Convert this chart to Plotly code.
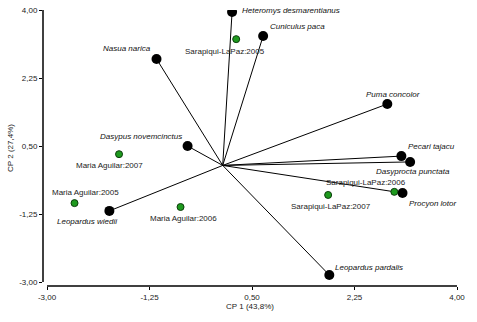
import plotly.graph_objects as go

# Species (vectors from origin)
species = ["Heteromys desmarentianus", "Cuniculus paca", "Nasua narica", "Puma concolor",
           "Pecari tajacu", "Dasyprocta punctata", "Procyon lotor", "Leopardus pardalis",
           "Leopardus wiedii", "Dasypus novemcinctus"]
species_x = [0.16, 0.69, -1.13, 2.81, 3.05, 3.20, 3.07, 1.82, -1.935, -0.60]
species_y = [3.95, 3.33, 2.74, 1.58, 0.24, 0.09, -0.71, -2.82, -1.17, 0.50]

# Sites (site:year scores)
sites = ["Sarapiqui-LaPaz:2005", "Sarapiqui-LaPaz:2006", "Sarapiqui-LaPaz:2007",
         "Maria Aguilar:2005", "Maria Aguilar:2006", "Maria Aguilar:2007"]
sites_x = [0.23, 2.93, 1.80, -2.53, -0.72, -1.77]
sites_y = [3.25, -0.68, -0.76, -0.97, -1.07, 0.29]

tick_vals = [-3.00, -1.25, 0.50, 2.25, 4.00]
tick_text = ["-3,00", "-1,25", "0,50", "2,25", "4,00"]

# label offsets (anchor, xshift, yshift) - styling only
species_lab = [("left", 8, 1), ("left", 5, 10), ("right", -4, 10), ("center", 6, 10),
               ("left", 5, 10), ("center", 3, -10), ("left", 4, -10), ("left", 4, 8),
               ("center", -22, -11), ("center", -47, 10)]
sites_lab = [("center", -11, -12), ("center", -28, 9), ("center", 3, -12),
             ("center", 11, 11), ("center", 3, -11), ("center", -10, -11)]

FONT = "Liberation Sans, Arial, sans-serif"
fig = go.Figure()

for sx, sy in zip(species_x, species_y):
    fig.add_trace(go.Scatter(x=[0, sx], y=[0, sy], mode="lines",
                             line=dict(color="black", width=1), hoverinfo="skip",
                             showlegend=False))

fig.add_trace(go.Scatter(x=species_x, y=species_y, mode="markers", text=species,
                         marker=dict(color="black", size=10), showlegend=False))
fig.add_trace(go.Scatter(x=sites_x, y=sites_y, mode="markers", text=sites,
                         marker=dict(color="#1e9a1e", size=7,
                                     line=dict(color="#0b3d0b", width=1)),
                         showlegend=False))

for name, x, y, (anc, xs, ys) in zip(species, species_x, species_y, species_lab):
    fig.add_annotation(x=x, y=y, text="<i>" + name + "</i>", showarrow=False,
                       xanchor=anc, yanchor="middle", xshift=xs, yshift=ys,
                       font=dict(family=FONT, size=8, color="#111"))
for name, x, y, (anc, xs, ys) in zip(sites, sites_x, sites_y, sites_lab):
    fig.add_annotation(x=x, y=y, text=name, showarrow=False,
                       xanchor=anc, yanchor="middle", xshift=xs, yshift=ys,
                       font=dict(family=FONT, size=8, color="#222"))

# detached axis lines
fig.add_shape(type="line", xref="x", yref="paper", x0=-3, x1=4, y0=0, y1=0,
              line=dict(color="black", width=1.5))
fig.add_shape(type="line", xref="paper", yref="y", x0=0, x1=0, y0=-3, y1=4,
              line=dict(color="black", width=1.5))

xpad = 4 / 58.57
ypad = 4 / 38.86
fig.update_xaxes(range=[-3 - xpad, 4], tickvals=tick_vals, ticktext=tick_text,
                 showgrid=False, zeroline=False, showline=False, automargin=False,
                 ticks="outside", ticklen=3, tickcolor="black",
                 tickfont=dict(family=FONT, size=8, color="#222"),
                 title=dict(text="CP 1 (43,8%)", font=dict(family=FONT, size=8, color="#222"),
                            standoff=1))
fig.update_yaxes(range=[-3 - ypad, 4], tickvals=tick_vals, ticktext=tick_text,
                 showgrid=False, zeroline=False, showline=False, automargin=False,
                 ticks="outside", ticklen=3, tickcolor="black",
                 tickfont=dict(family=FONT, size=8, color="#222"),
                 title=dict(text="CP 2 (27,4%)", font=dict(family=FONT, size=8, color="#222"),
                            standoff=4))

fig.update_layout(width=477, height=322, plot_bgcolor="white", paper_bgcolor="white",
                  margin=dict(l=43, r=20, t=10, b=36, autoexpand=False), showlegend=False)

fig.write_html("out.html", config={"displayModeBar": False},
               post_script="document.body.style.margin='0';")
